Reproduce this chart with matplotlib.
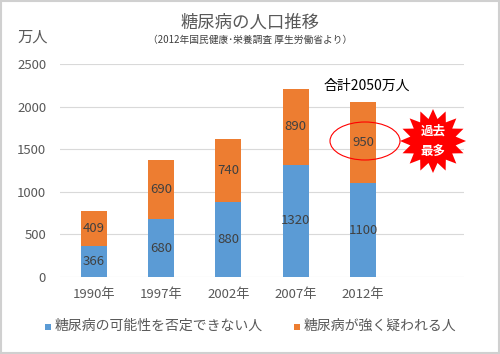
import matplotlib
matplotlib.use("Agg")
import matplotlib.pyplot as plt
from matplotlib.patches import Ellipse, Polygon, Rectangle
import numpy as np

plt.rcParams['font.family'] = ['Noto Sans CJK JP', 'DejaVu Sans']

years = ['1990年', '1997年', '2002年', '2007年', '2012年']
possible = [366, 680, 880, 1320, 1100]
strong = [409, 690, 740, 890, 950]
yticks = [0, 500, 1000, 1500, 2000, 2500]

blue = '#5B9BD5'
orange = '#ED7D31'
txt = '#404040'

W, H = 500, 354
fig = plt.figure(figsize=(W / 100, H / 100), dpi=100)
fig.patch.set_facecolor('white')

def fx(px):
    return px / W

def fy(py):
    return 1 - py / H

ax = fig.add_axes([fx(60), fy(277), fx(464) - fx(60), fy(64) - fy(277)])
x = np.arange(len(years))
ax.bar(x, possible, width=0.39, color=blue, zorder=3)
ax.bar(x, strong, width=0.39, bottom=possible, color=orange, zorder=3)
for i in range(len(years)):
    ax.text(x[i], possible[i] / 2, str(possible[i]), ha='center', va='center',
            fontsize=9.5, color=txt, zorder=4)
    ax.text(x[i], possible[i] + strong[i] / 2, str(strong[i]), ha='center', va='center',
            fontsize=9.5, color=txt, zorder=4)

ax.set_xlim(-0.5, 5.5)
ax.set_ylim(0, 2500)
ax.set_yticks(yticks)
ax.set_yticklabels([str(v) for v in yticks], fontsize=9.5, color='#595959')
ax.set_xticks(x)
ax.set_xticklabels(years, fontsize=9.5, color='#595959')
ax.tick_params(length=0, pad=8)
ax.tick_params(axis='y', pad=10)
ax.grid(axis='y', color='#D9D9D9', linewidth=0.8, zorder=0)
for s in ax.spines.values():
    s.set_visible(False)

# Titles
fig.text(fx(250), fy(23), '糖尿病の人口推移', ha='center', va='center', fontsize=12.5, color='#595959')
fig.text(fx(250), fy(40), '（2012年国民健康･栄養調査 厚生労働省より）', ha='center', va='center',
         fontsize=7, color='#404040')
fig.text(fx(33), fy(37), '万人', ha='center', va='center', fontsize=11, color='#595959')

# Annotation total
fig.text(fx(367), fy(86), '合計2050万人', ha='center', va='center', fontsize=10, color='black')

# Ellipse around 950
fig.add_artist(Ellipse((fx(365), fy(141)), fx(70), 38 / H, fill=False, edgecolor='red',
                       linewidth=0.8, transform=fig.transFigure))

# Starburst
cx, cy = 433, 141
n = 16
pts = []
for k in range(2 * n):
    ang = np.pi * k / n
    r = 1.0 if k % 2 == 0 else 0.7
    pts.append((fx(cx + 33 * r * np.cos(ang)), fy(cy + 32 * r * np.sin(ang))))
fig.add_artist(Polygon(pts, closed=True, facecolor='#FF0000', edgecolor='none',
                       transform=fig.transFigure))
fig.text(fx(cx), fy(131), '過去', ha='center', va='center', fontsize=9, color='white', weight='bold')
fig.text(fx(cx), fy(152), '最多', ha='center', va='center', fontsize=9, color='white', weight='bold')

# Legend
fig.add_artist(Rectangle((fx(45), fy(330)), fx(6), 6 / H, facecolor=blue, edgecolor='none',
                         transform=fig.transFigure))
fig.text(fx(55), fy(326), '糖尿病の可能性を否定できない人', ha='left', va='center', fontsize=10, color='#595959')
fig.add_artist(Rectangle((fx(294), fy(330)), fx(6), 6 / H, facecolor=orange, edgecolor='none',
                         transform=fig.transFigure))
fig.text(fx(304), fy(326), '糖尿病が強く疑われる人', ha='left', va='center', fontsize=10, color='#595959')

# Frame
fig.add_artist(Rectangle((0.002, 0.003), 0.996, 0.994, fill=False, edgecolor='#D0D0D0',
                         linewidth=1.5, transform=fig.transFigure))

fig.savefig('out.png', dpi=100, facecolor='white')
